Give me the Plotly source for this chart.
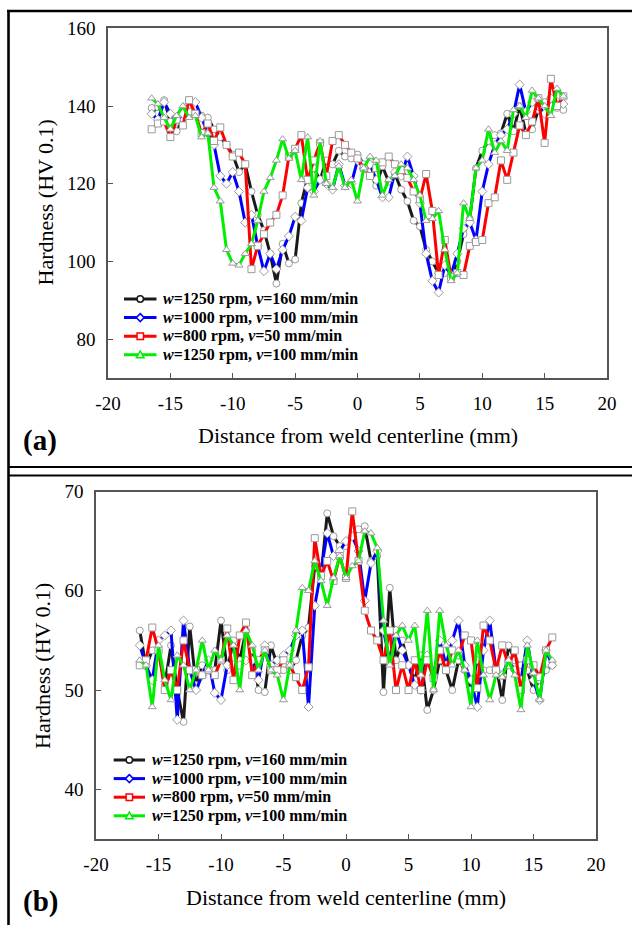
import plotly.graph_objects as go

# ---------------- data ----------------
DIST_MM = [-16.5, -16.0, -15.5, -15.0, -14.5, -14.0, -13.5, -13.0, -12.5, -12.0, -11.5, -11.0,
           -10.5, -10.0, -9.5, -9.0, -8.5, -8.0, -7.5, -7.0, -6.5, -6.0, -5.5, -5.0, -4.5, -4.0,
           -3.5, -3.0, -2.5, -2.0, -1.5, -1.0, -0.5, 0.0, 0.5, 1.0, 1.5, 2.0, 2.5, 3.0, 3.5, 4.0,
           4.5, 5.0, 5.5, 6.0, 6.5, 7.0, 7.5, 8.0, 8.5, 9.0, 9.5, 10.0, 10.5, 11.0, 11.5, 12.0,
           12.5, 13.0, 13.5, 14.0, 14.5, 15.0, 15.5, 16.0, 16.5]

SERIES_NAMES = ["w=1250 rpm, v=160 mm/min", "w=1000 rpm, v=100 mm/min",
                "w=800 rpm, v=50 mm/min", "w=1250 rpm, v=100 mm/min"]
LEGEND_HTML = ["<b><i>w</i>=1250 rpm, <i>v</i>=160 mm/min</b>",
               "<b><i>w</i>=1000 rpm, <i>v</i>=100 mm/min</b>",
               "<b><i>w</i>=800 rpm, <i>v</i>=50 mm/min</b>",
               "<b><i>w</i>=1250 rpm, <i>v</i>=100 mm/min</b>"]

# panel (a)
A_1250_160 = [139.5, 138, 141.5, 136, 133.5, 136.5, 138.5, 138, 137.5, 137, 134, 132,
              130, 127.5, 123, 125, 118, 112, 108, 102, 94.3, 104.5, 99.5, 100.5, 115, 121.5,
              124, 121, 126, 125, 128.5, 127, 126.5, 127.5, 125, 123, 119.5, 124.5, 120.5, 122.5, 118.5, 115.5,
              110.5, 109, 103, 100, 97, 97, 96, 100, 107, 111, 124, 128.5,
              131, 132.5, 133, 138, 133.5, 140, 133, 134, 139, 141, 142, 139.5, 139]
A_1000_100 = [138, 136.5, 141, 138, 136, 138, 140.5, 141, 137, 133, 130, 122,
              120, 123, 118, 110, 112, 104, 97.5, 102, 98, 103, 106.5, 111.5, 110.5, 119,
              118, 121, 120, 118.5, 125, 119.5, 120, 126, 124, 125, 121, 116.5, 116.5, 123, 122, 127,
              122, 115, 102, 95, 92, 99, 96.5, 102, 108.5, 110, 105.5, 118,
              125, 130, 132.5, 134, 138, 145.5, 138.5, 141, 140, 138, 142, 141, 140.5]
A_800_50 = [134, 135.5, 136, 132, 136.5, 135, 141.5, 138, 133, 135.5, 131, 134.5,
            130, 127, 128, 125, 98, 104, 107, 110, 112, 117, 127, 129, 132.5, 121,
            126, 130.5, 122, 131, 132.5, 130, 128, 126.5, 124, 122, 124, 125.5, 127, 125, 123.5, 121.5,
            118, 116, 122.5, 113, 96.5, 105.5, 96, 97, 96.5, 104, 105, 105.5,
            115, 116.5, 126, 121, 128, 135, 132.5, 136, 142, 130.5, 147, 140, 142.5]
A_1250_100 = [142, 140.5, 137, 134, 137.5, 140, 137, 137.5, 132, 133, 119, 115.5,
              103, 99.5, 99, 102, 104.5, 110.5, 118, 121.5, 126, 131.5, 126.5, 128.5, 121, 132,
              117, 131, 120, 119, 124.5, 119, 121, 115.5, 124, 127, 126, 117, 121, 122, 125, 124,
              121, 117, 110.5, 111, 113, 103, 95, 97, 115, 111, 124, 126,
              134, 128, 131, 128.5, 139, 140, 137, 144, 142, 140, 137.5, 144.5, 142.5]

# panel (b)
B_1250_160 = [56, 52.4, 54, 54, 50.5, 54.5, 50, 46.8, 56.4, 50.5, 52.5, 52,
              52, 57, 52, 55, 53, 56, 54, 50, 49.8, 54.5, 52.5, 52, 52, 53,
              55.5, 56.3, 62.5, 61.5, 67.8, 65.5, 64.5, 64.5, 65.5, 66.2, 66.5, 63, 63.5, 49.8, 60.3, 53,
              55, 52.5, 51, 53.5, 48, 50, 53, 52, 50, 53, 52, 50,
              53, 52, 52, 52.5, 49, 54.5, 53, 52.5, 52, 50, 51, 52, 52.5]
B_1000_100 = [54.5, 52.5, 51, 55, 55.5, 56, 47, 57, 52, 50, 51.5, 53,
              49.7, 49, 52.5, 52.5, 52.5, 53, 53, 51, 54.5, 52.5, 53, 53.5, 54, 55.5,
              56, 48.3, 58.5, 62, 65.8, 63.5, 64, 65, 65.5, 64, 59, 62.8, 64, 56, 53, 56,
              54, 52.5, 50.5, 50, 53.5, 51.5, 55, 52.5, 55, 57, 52.5, 51,
              48.3, 54, 57, 52, 51.5, 53, 52, 51, 55, 51, 49, 54, 52.5]
B_800_50 = [52.5, 53, 56.3, 54, 50, 52, 50, 55, 52, 52, 51.5, 52,
            51.5, 53, 56.2, 51, 55.5, 56.8, 51.5, 53, 54, 52, 52, 53, 52.5, 51.3,
            50, 52.3, 65.3, 61.5, 63, 61, 63.5, 61.3, 68, 63, 58, 56, 55, 53, 56, 50,
            52.5, 50, 53, 50, 53, 51.2, 54, 52, 54, 53.5, 55.5, 55,
            50.2, 56.5, 55, 52, 54.5, 52.5, 54, 50, 53, 52.5, 51.3, 54, 55.3]
B_1250_100 = [53, 52.5, 48.3, 54.5, 51, 49, 53.5, 52.5, 50, 52, 55, 52,
              54, 53, 55.5, 54.5, 50, 56, 54.5, 52, 54, 52, 51.5, 49, 52.5, 56,
              60.3, 60, 63, 61, 58.5, 61.3, 63.5, 61.3, 62.5, 63, 66, 65.8, 64.3, 57, 52.5, 55.5,
              56.5, 55, 56.5, 51.5, 58, 50, 58, 54.5, 52.5, 54, 52, 48.3,
              55, 51.5, 49, 51.5, 51.3, 53, 51.5, 48, 54.5, 51.7, 49, 54, 53]

COLORS = ["#1a1a1a", "#0000ff", "#ff0000", "#00ee00"]
SYMBOLS = ["circle", "diamond", "square", "triangle-up"]

X_TICKS = [-20, -15, -10, -5, 0, 5, 10, 15, 20]
X_TICKTEXT = ["-20", "-15", "-10", "-5", "0", "5", "10", "15", "20"]
YA_TICKS = [80, 100, 120, 140, 160]
YB_TICKS = [40, 50, 60, 70]

W, H = 632, 925
FONT = "Liberation Serif, Times New Roman, serif"


def px(x):
    return x / W


def py(y):
    return 1 - y / H


fig = go.Figure()

panel_a = [A_1250_160, A_1000_100, A_800_50, A_1250_100]
panel_b = [B_1250_160, B_1000_100, B_800_50, B_1250_100]

for series, ax, ay in [(panel_a, "x", "y"), (panel_b, "x2", "y2")]:
    for i, vals in enumerate(series):
        fig.add_trace(go.Scatter(
            x=DIST_MM, y=vals, mode="lines+markers", name=SERIES_NAMES[i],
            xaxis=ax, yaxis=ay, showlegend=False,
            line=dict(color=COLORS[i], width=3),
            marker=dict(symbol=SYMBOLS[i], size=7, color="white",
                        line=dict(color="#9a9a9a", width=1)),
        ))

axis_common = dict(showgrid=False, zeroline=False, showline=True, mirror=True,
                   linecolor="#555555", linewidth=1.5, ticks="inside", ticklen=5,
                   tickcolor="#555555", tickwidth=1.2, automargin=False,
                   tickfont=dict(family=FONT, size=19, color="black"),
                   ticklabelstandoff=7)

fig.update_layout(
    width=W, height=H, margin=dict(l=0, r=0, t=0, b=0, autoexpand=False),
    paper_bgcolor="white", plot_bgcolor="white",
    font=dict(family=FONT, color="black"),
    xaxis=dict(domain=[px(108), px(607)], range=[-20, 20], anchor="y",
               tickvals=X_TICKS, ticktext=X_TICKTEXT, **axis_common),
    yaxis=dict(domain=[py(378), py(28.3)], range=[70, 160], anchor="x",
               tickvals=YA_TICKS, **axis_common),
    xaxis2=dict(domain=[px(96), px(596)], range=[-20, 20], anchor="y2",
                tickvals=X_TICKS, ticktext=X_TICKTEXT, **axis_common),
    yaxis2=dict(domain=[py(839), py(491.5)], range=[35, 70], anchor="x2",
                tickvals=YB_TICKS, **axis_common),
)

annotations = []
shapes = []

# axis titles and panel labels
for (xc, yc, text, ang, size) in [
    (357.5, 435, "Distance from weld centerline (mm)", 0, 22),
    (346, 897, "Distance from weld centerline (mm)", 0, 22),
    (45, 202.5, "Hardness (HV 0.1)", -90, 22),
    (42, 666, "Hardness (HV 0.1)", -90, 22),
]:
    annotations.append(dict(x=px(xc), y=py(yc), xref="paper", yref="paper", text=text,
                            showarrow=False, textangle=ang, xanchor="center", yanchor="middle",
                            font=dict(family=FONT, size=size, color="black")))

for (xc, yc, text) in [(40, 440, "<b>(a)</b>"), (40, 901, "<b>(b)</b>")]:
    annotations.append(dict(x=px(xc), y=py(yc), xref="paper", yref="paper", text=text,
                            showarrow=False, xanchor="center", yanchor="middle",
                            font=dict(family=FONT, size=29, color="black")))


# custom legends (rows are tighter than plotly's legend allows)
def add_legend(x_line0, x_line1, x_text, rows):
    xm = (x_line0 + x_line1) / 2
    for i, yr in enumerate(rows):
        shapes.append(dict(type="line", xref="paper", yref="paper",
                           x0=px(x_line0), x1=px(x_line1), y0=py(yr), y1=py(yr),
                           line=dict(color=COLORS[i], width=3), layer="above"))
        r = 3.2
        if SYMBOLS[i] == "circle":
            shapes.append(dict(type="circle", xref="paper", yref="paper",
                               x0=px(xm - r), x1=px(xm + r), y0=py(yr + r), y1=py(yr - r),
                               fillcolor="white", line=dict(color=COLORS[i], width=1.5), layer="above"))
        elif SYMBOLS[i] == "square":
            shapes.append(dict(type="rect", xref="paper", yref="paper",
                               x0=px(xm - r), x1=px(xm + r), y0=py(yr + r), y1=py(yr - r),
                               fillcolor="white", line=dict(color=COLORS[i], width=1.5), layer="above"))
        elif SYMBOLS[i] == "diamond":
            rr = r + 0.8
            path = (f"M {px(xm)},{py(yr - rr)} L {px(xm + rr)},{py(yr)} "
                    f"L {px(xm)},{py(yr + rr)} L {px(xm - rr)},{py(yr)} Z")
            shapes.append(dict(type="path", xref="paper", yref="paper", path=path,
                               fillcolor="white", line=dict(color=COLORS[i], width=1.5), layer="above"))
        else:
            rr = r + 0.6
            path = (f"M {px(xm)},{py(yr - rr)} L {px(xm + rr)},{py(yr + rr * 0.8)} "
                    f"L {px(xm - rr)},{py(yr + rr * 0.8)} Z")
            shapes.append(dict(type="path", xref="paper", yref="paper", path=path,
                               fillcolor="white", line=dict(color=COLORS[i], width=1.5), layer="above"))
        annotations.append(dict(x=px(x_text), y=py(yr), xref="paper", yref="paper",
                                text=LEGEND_HTML[i], showarrow=False,
                                xanchor="left", yanchor="middle", borderpad=0,
                                font=dict(family=FONT, size=16, color="black")))


add_legend(124, 156.5, 162, [299, 317.6, 336.2, 354.8])
add_legend(113.7, 145, 151, [760, 778.6, 797.2, 815.8])

# outer figure frame lines
frame = [
    (7, 11, 632, 11, 2.6),
    (8.5, 10, 8.5, 925, 2.6),
    (8, 467, 632, 467, 2),
    (8, 475.5, 632, 475.5, 2),
]
for x0, y0, x1, y1, w in frame:
    shapes.append(dict(type="line", xref="paper", yref="paper",
                       x0=px(x0), y0=py(y0), x1=px(x1), y1=py(y1),
                       line=dict(color="black", width=w), layer="above"))

fig.update_layout(annotations=annotations, shapes=shapes)

fig.write_html("out.html")
